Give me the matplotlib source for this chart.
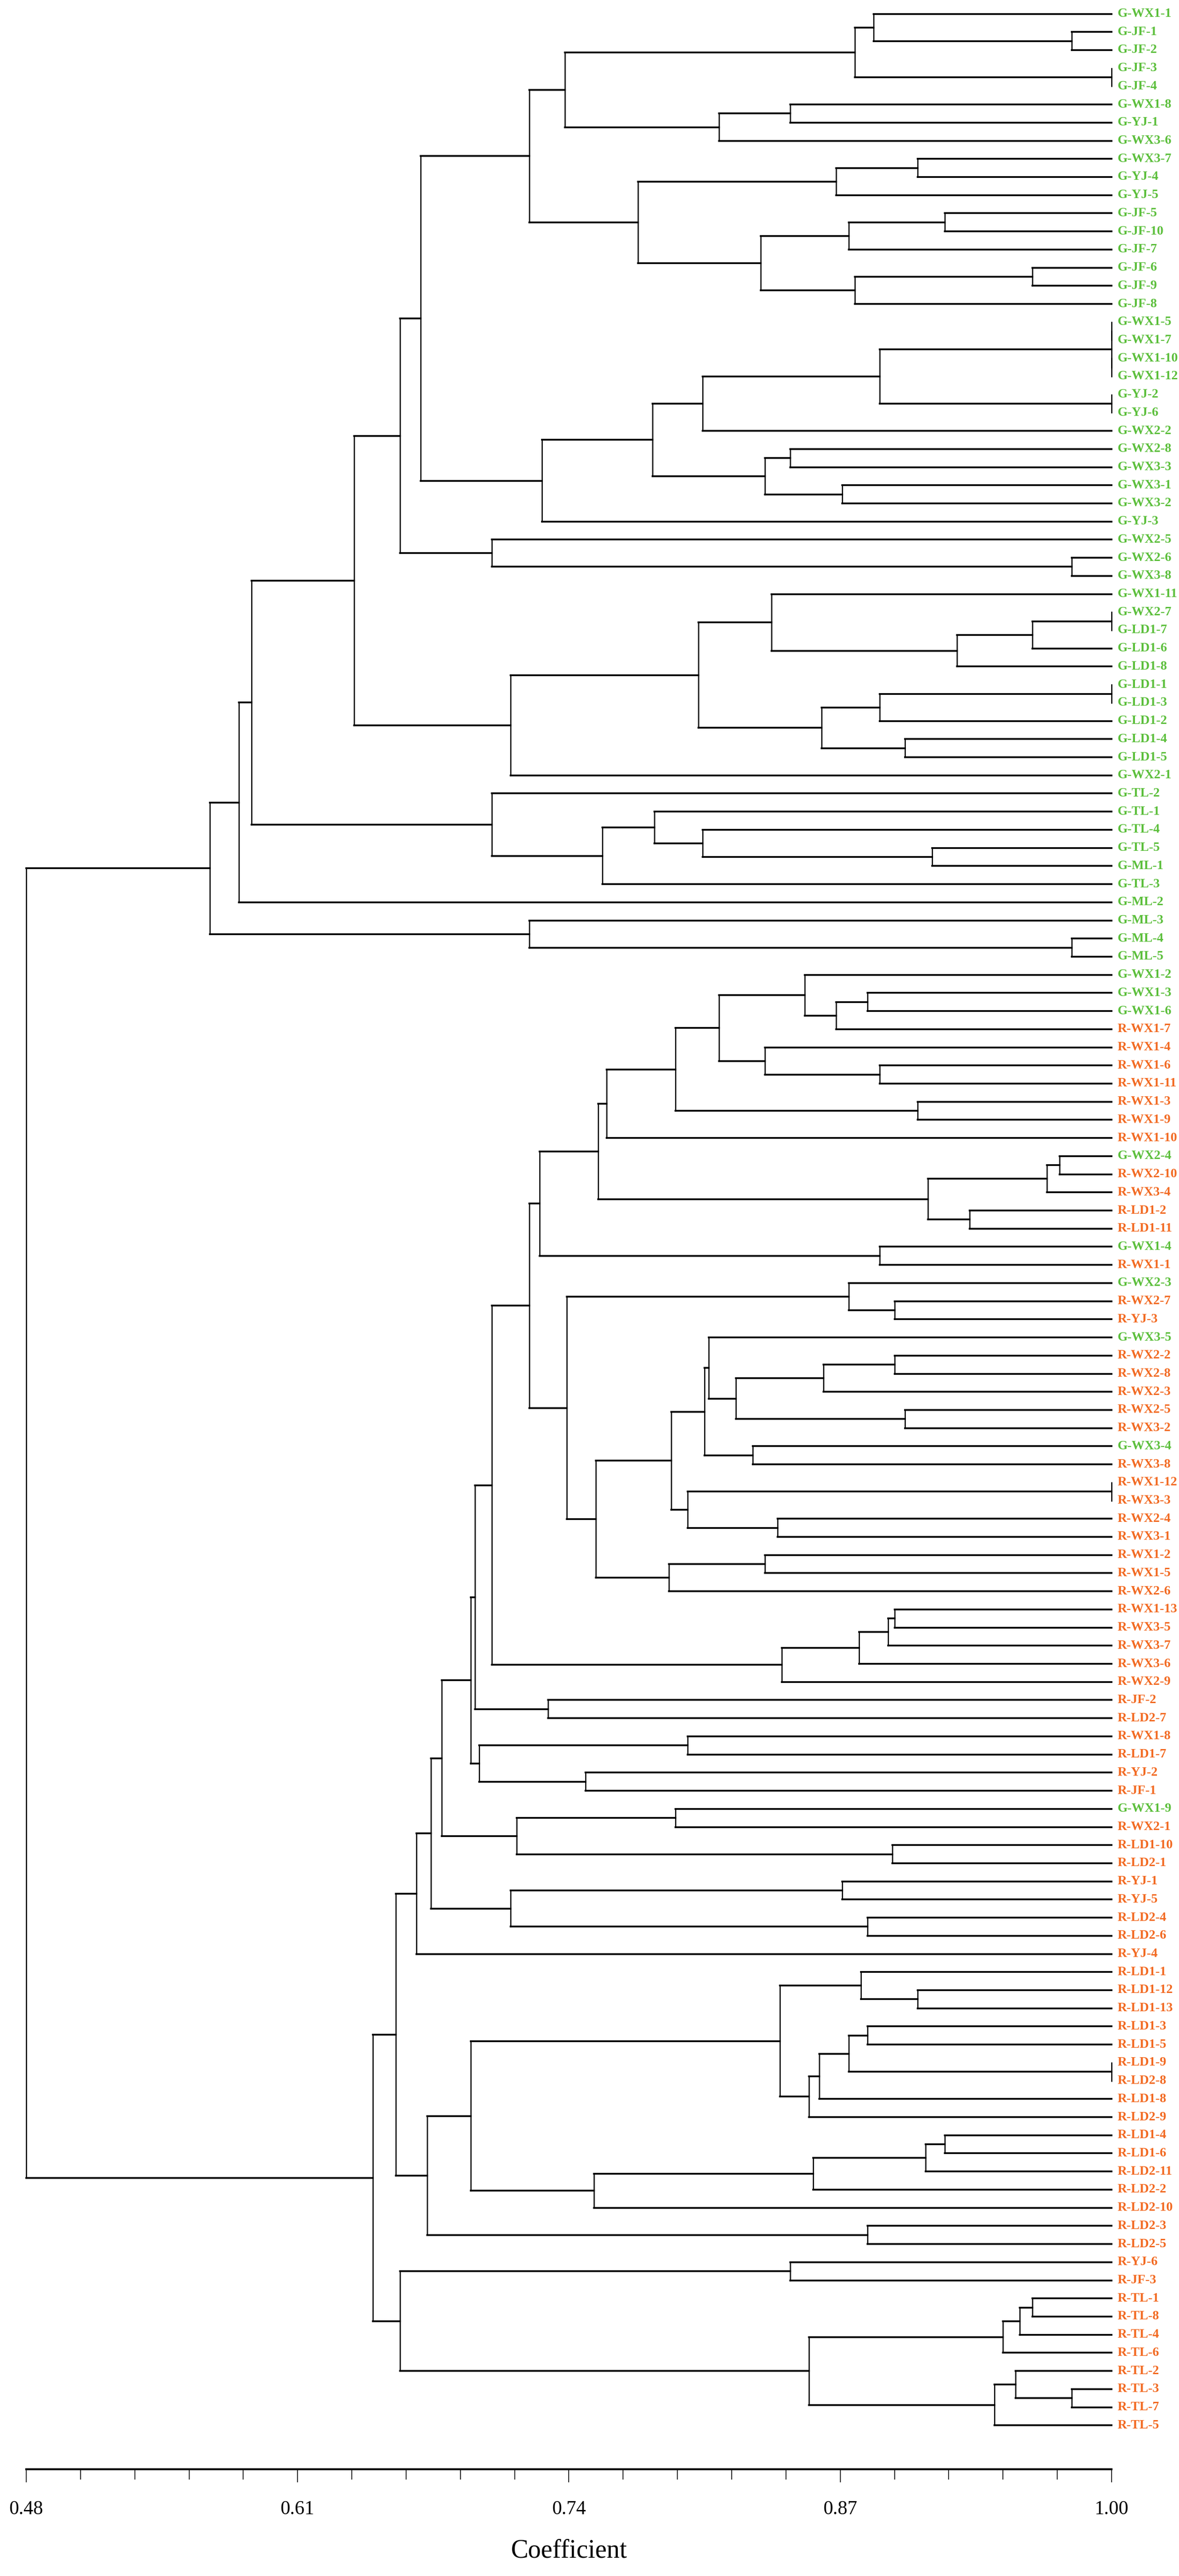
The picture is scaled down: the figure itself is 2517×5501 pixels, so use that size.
import matplotlib
matplotlib.use('Agg')
import matplotlib.pyplot as plt
from matplotlib.collections import LineCollection
import numpy as np

# leaf labels, top to bottom
leaves = [
    'G-WX1-1', 'G-JF-1', 'G-JF-2', 'G-JF-3', 'G-JF-4', 'G-WX1-8', 'G-YJ-1', 'G-WX3-6',
    'G-WX3-7', 'G-YJ-4', 'G-YJ-5', 'G-JF-5', 'G-JF-10', 'G-JF-7', 'G-JF-6', 'G-JF-9',
    'G-JF-8', 'G-WX1-5', 'G-WX1-7', 'G-WX1-10', 'G-WX1-12', 'G-YJ-2', 'G-YJ-6', 'G-WX2-2',
    'G-WX2-8', 'G-WX3-3', 'G-WX3-1', 'G-WX3-2', 'G-YJ-3', 'G-WX2-5', 'G-WX2-6', 'G-WX3-8',
    'G-WX1-11', 'G-WX2-7', 'G-LD1-7', 'G-LD1-6', 'G-LD1-8', 'G-LD1-1', 'G-LD1-3', 'G-LD1-2',
    'G-LD1-4', 'G-LD1-5', 'G-WX2-1', 'G-TL-2', 'G-TL-1', 'G-TL-4', 'G-TL-5', 'G-ML-1',
    'G-TL-3', 'G-ML-2', 'G-ML-3', 'G-ML-4', 'G-ML-5',
    'G-WX1-2', 'G-WX1-3', 'G-WX1-6', 'R-WX1-7', 'R-WX1-4', 'R-WX1-6', 'R-WX1-11', 'R-WX1-3',
    'R-WX1-9', 'R-WX1-10', 'G-WX2-4', 'R-WX2-10', 'R-WX3-4', 'R-LD1-2', 'R-LD1-11', 'G-WX1-4',
    'R-WX1-1', 'G-WX2-3', 'R-WX2-7', 'R-YJ-3', 'G-WX3-5', 'R-WX2-2', 'R-WX2-8', 'R-WX2-3',
    'R-WX2-5', 'R-WX3-2', 'G-WX3-4', 'R-WX3-8', 'R-WX1-12', 'R-WX3-3', 'R-WX2-4', 'R-WX3-1',
    'R-WX1-2', 'R-WX1-5', 'R-WX2-6', 'R-WX1-13', 'R-WX3-5', 'R-WX3-7', 'R-WX3-6', 'R-WX2-9',
    'R-JF-2', 'R-LD2-7', 'R-WX1-8', 'R-LD1-7', 'R-YJ-2', 'R-JF-1', 'G-WX1-9', 'R-WX2-1',
    'R-LD1-10', 'R-LD2-1', 'R-YJ-1', 'R-YJ-5', 'R-LD2-4', 'R-LD2-6', 'R-YJ-4', 'R-LD1-1',
    'R-LD1-12', 'R-LD1-13', 'R-LD1-3', 'R-LD1-5', 'R-LD1-9', 'R-LD2-8', 'R-LD1-8', 'R-LD2-9',
    'R-LD1-4', 'R-LD1-6', 'R-LD2-11', 'R-LD2-2', 'R-LD2-10', 'R-LD2-3', 'R-LD2-5', 'R-YJ-6',
    'R-JF-3', 'R-TL-1', 'R-TL-8', 'R-TL-4', 'R-TL-6', 'R-TL-2', 'R-TL-3', 'R-TL-7', 'R-TL-5',
]

# merges: (child a, child b, coefficient); str = leaf, int = earlier merge
merges = [
    ('G-JF-1', 'G-JF-2', 0.981), ('G-WX1-1', 0, 0.886), ('G-JF-3', 'G-JF-4', 1.0),
    (1, 2, 0.877), ('G-WX1-8', 'G-YJ-1', 0.846), (4, 'G-WX3-6', 0.812), (3, 5, 0.738),
    ('G-WX3-7', 'G-YJ-4', 0.907), (7, 'G-YJ-5', 0.868), ('G-JF-5', 'G-JF-10', 0.920),
    (9, 'G-JF-7', 0.874), ('G-JF-6', 'G-JF-9', 0.962), (11, 'G-JF-8', 0.877),
    (10, 12, 0.832), (8, 13, 0.773), (6, 14, 0.721),
    ('G-WX1-5', 'G-WX1-7', 1.0), ('G-WX1-10', 'G-WX1-12', 1.0), (16, 17, 1.0),
    ('G-YJ-2', 'G-YJ-6', 1.0), (18, 19, 0.889), (20, 'G-WX2-2', 0.804),
    ('G-WX2-8', 'G-WX3-3', 0.846), ('G-WX3-1', 'G-WX3-2', 0.871), (22, 23, 0.834),
    (21, 24, 0.780), (25, 'G-YJ-3', 0.727), (15, 26, 0.669),
    ('G-WX2-6', 'G-WX3-8', 0.981), ('G-WX2-5', 28, 0.703), (27, 29, 0.659),
    ('G-WX2-7', 'G-LD1-7', 1.0), (31, 'G-LD1-6', 0.962), (32, 'G-LD1-8', 0.926),
    ('G-WX1-11', 33, 0.837), ('G-LD1-1', 'G-LD1-3', 1.0), (35, 'G-LD1-2', 0.889),
    ('G-LD1-4', 'G-LD1-5', 0.901), (36, 37, 0.861), (34, 38, 0.802),
    (39, 'G-WX2-1', 0.712), (30, 40, 0.637),
    ('G-TL-5', 'G-ML-1', 0.914), ('G-TL-4', 42, 0.804), ('G-TL-1', 43, 0.781),
    (44, 'G-TL-3', 0.756), ('G-TL-2', 45, 0.703), (41, 46, 0.588), (47, 'G-ML-2', 0.582),
    ('G-ML-4', 'G-ML-5', 0.981), ('G-ML-3', 49, 0.721), (48, 50, 0.568),
    # second main cluster
    ('G-WX1-3', 'G-WX1-6', 0.883), (52, 'R-WX1-7', 0.868), ('G-WX1-2', 53, 0.853),
    ('R-WX1-6', 'R-WX1-11', 0.889), ('R-WX1-4', 55, 0.834), (54, 56, 0.812),
    ('R-WX1-3', 'R-WX1-9', 0.907), (57, 58, 0.791), (59, 'R-WX1-10', 0.758),
    ('G-WX2-4', 'R-WX2-10', 0.975), (61, 'R-WX3-4', 0.969), ('R-LD1-2', 'R-LD1-11', 0.932),
    (62, 63, 0.912), (60, 64, 0.754), ('G-WX1-4', 'R-WX1-1', 0.889), (65, 66, 0.726),
    ('R-WX2-7', 'R-YJ-3', 0.896), ('G-WX2-3', 68, 0.874), ('R-WX2-2', 'R-WX2-8', 0.896),
    (70, 'R-WX2-3', 0.862), ('R-WX2-5', 'R-WX3-2', 0.901), (71, 72, 0.820),
    ('G-WX3-5', 73, 0.807), ('G-WX3-4', 'R-WX3-8', 0.828), (74, 75, 0.805),
    ('R-WX1-12', 'R-WX3-3', 1.0), ('R-WX2-4', 'R-WX3-1', 0.840), (77, 78, 0.797),
    (76, 79, 0.789), ('R-WX1-2', 'R-WX1-5', 0.834), (81, 'R-WX2-6', 0.788),
    (80, 82, 0.753), (69, 83, 0.739), (67, 84, 0.721),
    ('R-WX1-13', 'R-WX3-5', 0.896), (86, 'R-WX3-7', 0.893), (87, 'R-WX3-6', 0.879),
    (88, 'R-WX2-9', 0.842), (85, 89, 0.703), ('R-JF-2', 'R-LD2-7', 0.730), (90, 91, 0.695),
    ('R-WX1-8', 'R-LD1-7', 0.797), ('R-YJ-2', 'R-JF-1', 0.748), (93, 94, 0.697),
    (92, 95, 0.693), ('G-WX1-9', 'R-WX2-1', 0.791), ('R-LD1-10', 'R-LD2-1', 0.895),
    (97, 98, 0.715), (96, 99, 0.679), ('R-YJ-1', 'R-YJ-5', 0.871),
    ('R-LD2-4', 'R-LD2-6', 0.883), (101, 102, 0.712), (100, 103, 0.674),
    (104, 'R-YJ-4', 0.667),
    ('R-LD1-12', 'R-LD1-13', 0.907), ('R-LD1-1', 106, 0.880), ('R-LD1-3', 'R-LD1-5', 0.883),
    ('R-LD1-9', 'R-LD2-8', 1.0), (108, 109, 0.874), (110, 'R-LD1-8', 0.860),
    (111, 'R-LD2-9', 0.855), (107, 112, 0.841), ('R-LD1-4', 'R-LD1-6', 0.920),
    (114, 'R-LD2-11', 0.911), (115, 'R-LD2-2', 0.857), (116, 'R-LD2-10', 0.752),
    (113, 117, 0.693), ('R-LD2-3', 'R-LD2-5', 0.883), (118, 119, 0.672), (105, 120, 0.657),
    ('R-YJ-6', 'R-JF-3', 0.846), ('R-TL-1', 'R-TL-8', 0.962), (123, 'R-TL-4', 0.956),
    (124, 'R-TL-6', 0.948), ('R-TL-3', 'R-TL-7', 0.981), ('R-TL-2', 126, 0.954),
    (127, 'R-TL-5', 0.944), (125, 128, 0.855), (122, 129, 0.659), (121, 130, 0.646),
    # root
    (51, 131, 0.480),
]

major_ticks = [0.48, 0.61, 0.74, 0.87, 1.00]
green = '#5cbf3c'
orange = '#f26a22'

W, H = 2517, 5501
fig = plt.figure(figsize=(W / 100, H / 100), dpi=100)
# axis line sits at y=5273 px, x range 56..2373 px
ax = fig.add_axes([56 / W, 1 - 5273 / H, (2373 - 56) / W, 5273 / H])
step = 38.72
ax.set_xlim(0.48, 1.0)
ax.set_ylim((5273 - 29.5) / step, -29.5 / step)

ypos = {name: i for i, name in enumerate(leaves)}
node_x, node_y = [], []
hsegs, vsegs = [], []


def where(c):
    if isinstance(c, str):
        return 1.0, ypos[c]
    return node_x[c], node_y[c]


for a, b, h in merges:
    xa, ya = where(a)
    xb, yb = where(b)
    hsegs.append([(xa, ya), (h, ya)])
    hsegs.append([(xb, yb), (h, yb)])
    vsegs.append([(h, ya), (h, yb)])
    node_x.append(h)
    node_y.append((ya + yb) / 2)

ax.add_collection(LineCollection(hsegs, colors='black', linewidths=2.7, clip_on=False,
                                 capstyle='projecting'))
ax.add_collection(LineCollection(vsegs, colors='black', linewidths=1.8, clip_on=False,
                                 capstyle='projecting'))

for i, name in enumerate(leaves):
    ax.annotate(name, xy=(1.0, i), xytext=(9, 0), textcoords='offset points',
                ha='left', va='center', fontsize=20, fontweight='bold',
                family='Liberation Serif',
                color=green if name.startswith('G') else orange,
                annotation_clip=False)

for s in ['left', 'right', 'top']:
    ax.spines[s].set_visible(False)
ax.spines['bottom'].set_linewidth(3)
ax.set_yticks([])
ax.set_xticks(major_ticks)
ax.set_xticklabels(['%.2f' % t for t in major_ticks], family='Liberation Serif', fontsize=30)
ax.set_xticks(np.arange(0.48, 1.001, 0.026), minor=True)
ax.tick_params(axis='x', which='major', direction='out', length=20, width=1.2, pad=28)
ax.tick_params(axis='x', which='minor', direction='out', length=16, width=1.2)
ax.set_xlabel('Coefficient', family='Liberation Serif', fontsize=40, va='center')
ax.xaxis.set_label_coords(0.5, -(5447 - 5273) / 5273)

fig.savefig('out.png', dpi=100, facecolor='white')
